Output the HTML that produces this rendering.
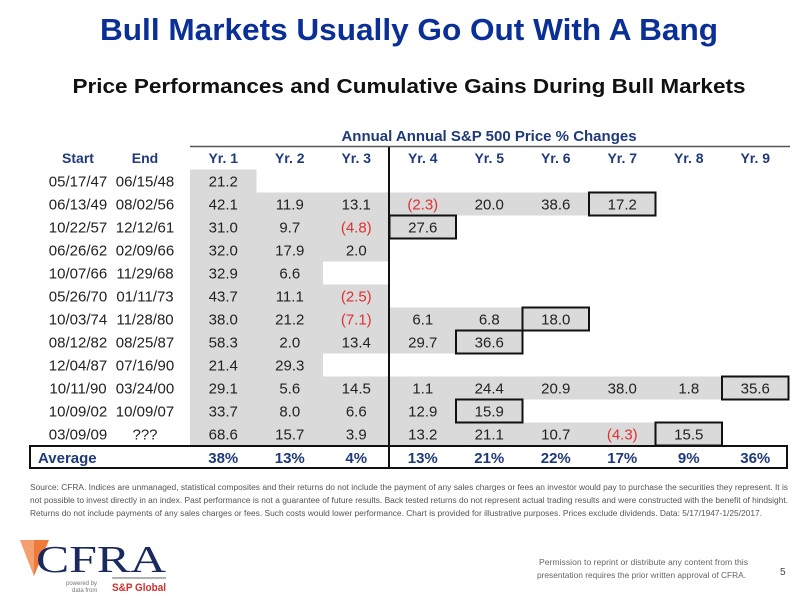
<!DOCTYPE html>
<html><head><meta charset="utf-8"><style>
body{margin:0;background:#fff;}
svg, svg text{font-family:"Liberation Sans",Arial,Helvetica,sans-serif;}
</style></head><body>
<svg id="s" width="800" height="608" viewBox="0 0 800 608" xmlns="http://www.w3.org/2000/svg" font-family="Liberation Sans, sans-serif">
<text x="409" y="40" text-anchor="middle" font-size="31" font-weight="bold" fill="#0a2f96" textLength="618" lengthAdjust="spacingAndGlyphs">Bull Markets Usually Go Out With A Bang</text>
<text x="409" y="93" text-anchor="middle" font-size="20" font-weight="bold" fill="#111" textLength="673" lengthAdjust="spacingAndGlyphs">Price Performances and Cumulative Gains During Bull Markets</text>
<g id="tbl"></g>
<text x="30" y="490" font-size="8" fill="#555" textLength="758" lengthAdjust="spacingAndGlyphs">Source: CFRA. Indices are unmanaged, statistical composites and their returns do not include the payment of any sales charges or fees an investor would pay to purchase the securities they represent. It is</text>
<text x="30" y="503" font-size="8" fill="#555" textLength="758" lengthAdjust="spacingAndGlyphs">not possible to invest directly in an index. Past performance is not a guarantee of future results. Back tested returns do not represent actual trading results and were constructed with the benefit of hindsight.</text>
<text x="30" y="516" font-size="8" fill="#555" textLength="732" lengthAdjust="spacingAndGlyphs">Returns do not include payments of any sales charges or fees. Such costs would lower performance. Chart is provided for illustrative purposes. Prices exclude dividends. Data: 5/17/1947-1/25/2017.</text>
<g>
<polygon points="20,540 49,540 34,576" fill="#f07a3a"/>
<polygon points="20,540 34,540 34,576" fill="#f5a070"/>
<text x="36" y="572" font-family="Liberation Serif, serif" style="font-family:'Liberation Serif',serif" font-size="38" fill="#1a2a5e" textLength="130" lengthAdjust="spacingAndGlyphs">CFRA</text>
<line x1="112" y1="578" x2="166" y2="578" stroke="#666" stroke-width="1"/>
<text x="66" y="585" font-size="6" fill="#777">powered by</text>
<text x="72" y="592" font-size="6" fill="#777">data from</text>
<text x="112" y="591" font-size="11" font-weight="bold" fill="#d03030" textLength="54" lengthAdjust="spacingAndGlyphs">S&amp;P Global</text>
</g>
<text x="539" y="565" font-size="8" fill="#666" textLength="209" lengthAdjust="spacingAndGlyphs">Permission to reprint or distribute any content from this</text>
<text x="537" y="578" font-size="8" fill="#666" textLength="209" lengthAdjust="spacingAndGlyphs">presentation requires the prior written approval of CFRA.</text>
<text x="780" y="575" font-size="10" fill="#444">5</text>
</svg>
<script>
const headers = ["Yr. 1","Yr. 2","Yr. 3","Yr. 4","Yr. 5","Yr. 6","Yr. 7","Yr. 8","Yr. 9"];
const starts = ["05/17/47","06/13/49","10/22/57","06/26/62","10/07/66","05/26/70","10/03/74","08/12/82","12/04/87","10/11/90","10/09/02","03/09/09"];
const ends = ["06/15/48","08/02/56","12/12/61","02/09/66","11/29/68","01/11/73","11/28/80","08/25/87","07/16/90","03/24/00","10/09/07","???"];
const values = [
 [21.2],
 [42.1,11.9,13.1,-2.3,20.0,38.6,17.2],
 [31.0,9.7,-4.8,27.6],
 [32.0,17.9,2.0],
 [32.9,6.6],
 [43.7,11.1,-2.5],
 [38.0,21.2,-7.1,6.1,6.8,18.0],
 [58.3,2.0,13.4,29.7,36.6],
 [21.4,29.3],
 [29.1,5.6,14.5,1.1,24.4,20.9,38.0,1.8,35.6],
 [33.7,8.0,6.6,12.9,15.9],
 [68.6,15.7,3.9,13.2,21.1,10.7,-4.3,15.5]
];
const boxedRows = [1,2,6,7,9,10,11];
const averages = ["38%","13%","4%","13%","21%","22%","17%","9%","36%"];

const NS="http://www.w3.org/2000/svg";
const g=document.getElementById('tbl');
const FF="Liberation Sans, Arial, sans-serif";
function mk(tag,attrs,txt){const e=document.createElementNS(NS,tag);for(const k in attrs)e.setAttribute(k,attrs[k]);if(txt!==undefined){e.textContent=txt;e.setAttribute('font-family',FF);}g.appendChild(e);return e;}
const colX0=190, colW=66.5, row0=181, rowH=23;
const cx=i=>colX0+colW*i+colW/2;
const ry=r=>row0+rowH*r;
const fmt=v=>v<0?"("+(-v).toFixed(1)+")":v.toFixed(1);

values.forEach((row,r)=>{
  const b=mk('rect',{x:colX0,y:ry(r)-11.5,width:colW*row.length,height:23,fill:'#dadada'});
  
  
});
const grp=mk('text',{x:489,y:141,'text-anchor':'middle','font-size':15,'font-weight':'bold',fill:'#1f3a7a'},'Annual Annual S&P 500 Price % Changes');


const hl=mk('line',{x1:190,y1:146.5,x2:790,y2:146.5,stroke:'#555','stroke-width':1.5});


[["Start",78],["End",145]].forEach(([t,x])=>{
  const e=mk('text',{x:x,y:163,'text-anchor':'middle','font-size':14,'font-weight':'bold',fill:'#1f3a7a'},t);
  
  
});
headers.forEach((h,i)=>{
  const e=mk('text',{x:cx(i),y:163,'text-anchor':'middle','font-size':14,'font-weight':'bold',fill:'#1f3a7a'},h);
  
  
});
values.forEach((row,r)=>{
  const y=ry(r)+5.5;
  const s=mk('text',{x:78,y:y,'text-anchor':'middle','font-size':15,fill:'#222'},starts[r]);
  
  
  const en=mk('text',{x:145,y:y,'text-anchor':'middle','font-size':15,fill:'#222'},ends[r]);
  
  
  row.forEach((v,i)=>{
    const t=mk('text',{x:cx(i),y:y,'text-anchor':'middle','font-size':15,fill:v<0?'#e03030':'#222'},fmt(v));
    
    
  });
  if(boxedRows.includes(r)){
    const i=row.length-1;
    const b=mk('rect',{x:colX0+colW*i,y:ry(r)-11.5,width:colW,height:23,fill:'none',stroke:'#111','stroke-width':2});
    
    
  }
});
const ab=mk('rect',{x:30,y:446,width:757,height:22,fill:'none',stroke:'#111','stroke-width':2});


const al=mk('text',{x:38,y:463,'font-size':15,'font-weight':'bold',fill:'#1f3a7a'},'Average');


averages.forEach((a,i)=>{
  const t=mk('text',{x:cx(i),y:463,'text-anchor':'middle','font-size':15,'font-weight':'bold',fill:'#1f3a7a'},a);
  
  
});
const vl=mk('line',{x1:389,y1:147,x2:389,y2:468,stroke:'#111','stroke-width':2});


</script>
</body></html>
